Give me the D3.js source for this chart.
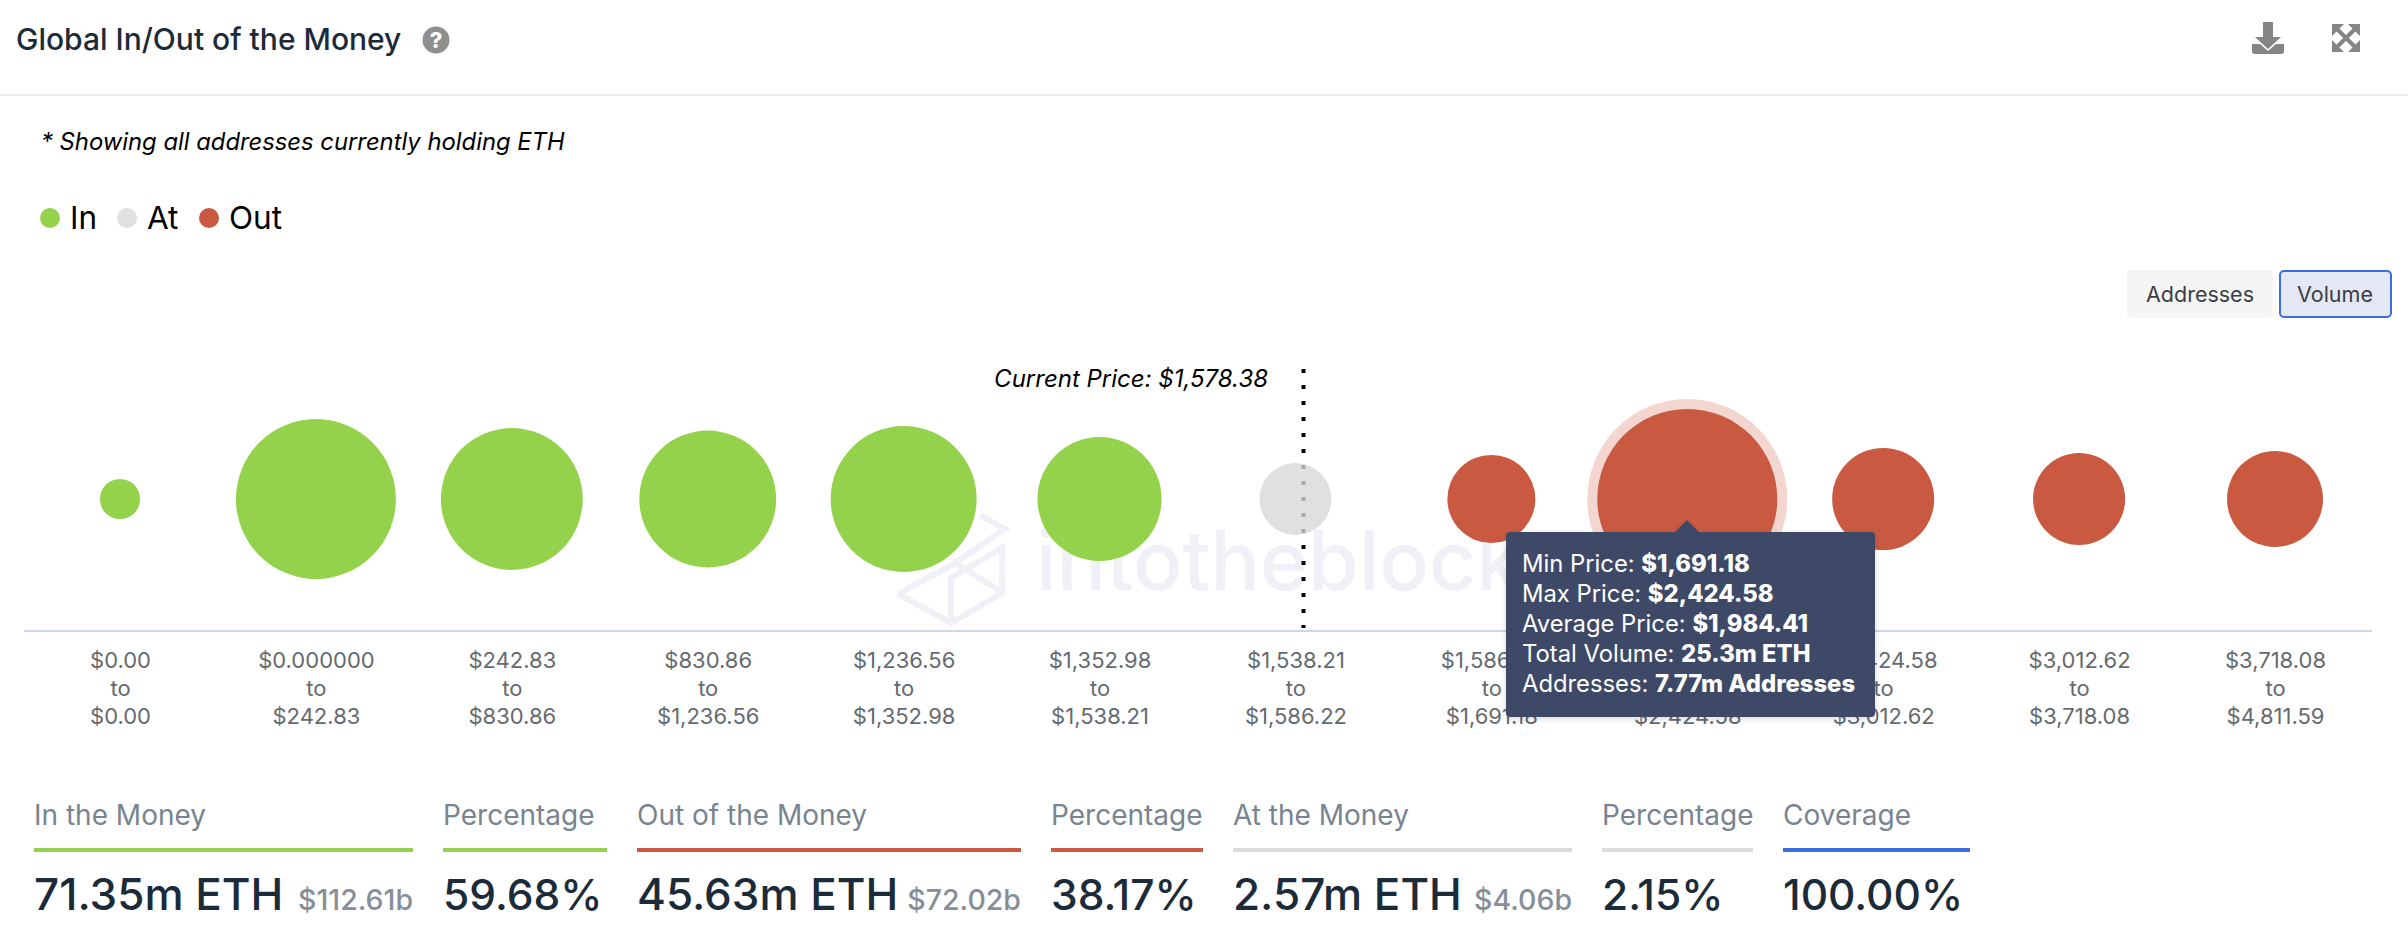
<!DOCTYPE html>
<html lang="en">
<head>
    <meta charset="UTF-8">
    <title>Global In/Out of the Money</title>
    <style>
        html, body { margin: 0; padding: 0; background: #fff; overflow: hidden; }
        svg { display: block; font-family: Inter, "Noto Sans", sans-serif; }
    </style>
    <script src="https://d3js.org/d3.v7.min.js"></script>
</head>
<body>
    <div id="chart"></div>
    <script>
        // price clusters
        const priceFrom = ["$0.00", "$0.000000", "$242.83", "$830.86", "$1,236.56", "$1,352.98", "$1,538.21", "$1,586.22", "$1,691.18", "$2,424.58", "$3,012.62", "$3,718.08"];
        const priceTo = ["$0.00", "$242.83", "$830.86", "$1,236.56", "$1,352.98", "$1,538.21", "$1,586.22", "$1,691.18", "$2,424.58", "$3,012.62", "$3,718.08", "$4,811.59"];
        const volumes = [0.35, 19.3, 14.6, 13.4, 15.6, 10.6, 2.57, 4.46, 25.3, 6.54, 5.02, 5.6]; // m ETH
        const groups = ["In", "In", "In", "In", "In", "In", "At", "Out", "Out", "Out", "Out", "Out"];

        const legendNames = ["In", "At", "Out"];
        const legendX = [50, 127, 209];

        const statLabels = ["In the Money", "Percentage", "Out of the Money", "Percentage", "At the Money", "Percentage", "Coverage"];
        const statValues = ["71.35m ETH", "59.68%", "45.63m ETH", "38.17%", "2.57m ETH", "2.15%", "100.00%"];
        const statUsd = ["$112.61b", "", "$72.02b", "", "$4.06b", "", ""];
        const statColors = ["In", "In", "Out", "Out", "At", "At", "Cov"];
        const statLeft = [34, 443, 637, 1051, 1233, 1602, 1783];
        const statRight = [413, 607, 1021, 1203, 1572, 1753, 1970];

        const tooltipLabels = ["Min Price: ", "Max Price: ", "Average Price: ", "Total Volume: ", "Addresses: "];
        const tooltipValues = ["$1,691.18", "$2,424.58", "$1,984.41", "25.3m ETH", "7.77m Addresses"];
        const activeIndex = 8;

        const width = 2408;
        const height = 952;
        const cy = 499;
        const axisY = 631;

        const color = { In: "#93d24a", At: "#e0e0e0", Out: "#c95a41", Cov: "#3c6de0" };
        const labels = priceFrom.map((d, i) => d + "|" + priceTo[i]);

        const svg = d3.select("#chart").append("svg")
            .attr("width", width)
            .attr("height", height);

        // header
        svg.append("text").attr("x", 16).attr("y", 50)
            .attr("font-size", 30).attr("font-weight", 500).attr("fill", "#1c2b3a")
            .text("Global In/Out of the Money");
        svg.append("circle").attr("cx", 436).attr("cy", 40).attr("r", 13.5).attr("fill", "#8e8e8e");
        svg.append("text").attr("x", 436).attr("y", 48).attr("text-anchor", "middle")
            .attr("font-size", 22).attr("font-weight", 800).attr("fill", "#fff").text("?");
        svg.append("rect").attr("x", 0).attr("y", 94).attr("width", width).attr("height", 2).attr("fill", "#eeeeee");

        // download + expand icons
        svg.append("path").attr("fill", "#858585")
            .attr("d", "M2263 22h10v15h8l-13 12-13-12h8z M2252 44h8l8 7 8-7h8v7q0 3-3 3h-26q-3 0-3-3z");
        svg.append("g").attr("stroke", "#858585").attr("fill", "none").attr("stroke-width", 4)
            .call(g => {
                g.append("path").attr("d", "M2337 29L2355 47M2355 29L2337 47");
            });
        svg.append("path").attr("fill", "#858585")
            .attr("d", "M2332 24h12l-12 12z M2360 24v12l-12-12z M2332 52v-12l12 12z M2360 52h-12l12-12z");

        svg.append("text").attr("x", 41).attr("y", 150)
            .attr("font-size", 23.8).attr("font-style", "italic").attr("fill", "#000")
            .text("* Showing all addresses currently holding ETH");

        // legend
        const legend = svg.append("g").selectAll("g").data(legendNames).enter().append("g");
        legend.append("circle").attr("cx", (d, i) => legendX[i]).attr("cy", 218).attr("r", 10)
            .attr("fill", d => color[d]);
        legend.append("text").attr("x", (d, i) => legendX[i] + 20).attr("y", 229)
            .attr("font-size", 31.5).attr("fill", "#000").text(d => d);

        // Addresses / Volume switch
        svg.append("rect").attr("x", 2127).attr("y", 270).attr("width", 146).attr("height", 48).attr("rx", 4).attr("fill", "#f5f5f5");
        svg.append("rect").attr("x", 2280).attr("y", 271).attr("width", 111).attr("height", 46).attr("rx", 4)
            .attr("fill", "#e3e8f4").attr("stroke", "#3c6de0").attr("stroke-width", 2);
        svg.append("text").attr("x", 2200).attr("y", 302).attr("text-anchor", "middle")
            .attr("font-size", 21.5).attr("fill", "#3a3d45").text("Addresses");
        svg.append("text").attr("x", 2335).attr("y", 302).attr("text-anchor", "middle")
            .attr("font-size", 21.5).attr("fill", "#3a3d45").text("Volume");

        // watermark
        const mark = svg.append("g").attr("fill", "none").attr("stroke", "#eff1f7").attr("stroke-width", 6);
        mark.append("path").attr("d", "M898 594L951 623L1002 593V548L951 578V623 M898 594L952 565L1005 529L980 515 M955 563L1002 592");
        svg.append("text").attr("x", 1036).attr("y", 590)
            .attr("font-size", 82).attr("font-weight", 500).attr("fill", "#eff1f7").text("intotheblock");

        // scales
        const x = d3.scalePoint().domain(labels).range([120, 2275]);
        const r = d3.scaleSqrt().domain([0, d3.max(volumes)]).range([10.7, 90]);

        // x axis, each label split on three lines
        const axis = svg.append("g")
            .attr("transform", `translate(0,${axisY})`)
            .call(d3.axisBottom(x).tickSize(0).tickPadding(0));
        axis.select(".domain").remove();
        svg.append("rect").attr("x", 24).attr("y", axisY - 1).attr("width", 2348).attr("height", 2).attr("fill", "#cdd6ec");
        axis.selectAll(".tick text")
            .attr("font-family", "Inter, sans-serif")
            .attr("font-size", 22)
            .attr("fill", "#666a6e")
            .each(function (d) {
                const parts = d.split("|");
                const t = d3.select(this).text(null).attr("y", null).attr("dy", null);
                [parts[0], "to", parts[1]].forEach((s, i) => {
                    t.append("tspan").attr("x", 0).attr("y", 37 + i * 28).text(s);
                });
            });

        // current price marker
        svg.append("line").attr("x1", 1303.5).attr("x2", 1303.5).attr("y1", 369).attr("y2", 628)
            .attr("stroke", "#000").attr("stroke-width", 4).attr("stroke-dasharray", "4 12");
        svg.append("text").attr("x", 1268).attr("y", 387).attr("text-anchor", "end")
            .attr("font-size", 24).attr("font-style", "italic").attr("fill", "#000")
            .text("Current Price: $1,578.38");

        // bubbles
        svg.append("circle").attr("cx", x(labels[activeIndex])).attr("cy", cy)
            .attr("r", r(volumes[activeIndex]) + 10).attr("fill", "#f3d6cf");
        svg.append("g").selectAll("circle")
            .data(volumes)
            .enter().append("circle")
            .attr("cx", (d, i) => x(labels[i]))
            .attr("cy", cy)
            .attr("r", d => r(d))
            .attr("fill", (d, i) => groups[i] === "At" ? "#d8d8d8" : color[groups[i]])
            .attr("fill-opacity", (d, i) => groups[i] === "At" ? 0.79 : 1);

        // tooltip
        const defs = svg.append("defs");
        const shadow = defs.append("filter").attr("id", "tipShadow").attr("x", "-5%").attr("y", "-5%").attr("width", "110%").attr("height", "115%");
        shadow.append("feDropShadow").attr("dx", 0).attr("dy", 2).attr("stdDeviation", 3).attr("flood-color", "#000").attr("flood-opacity", 0.15);
        const tip = svg.append("g");
        tip.append("path").attr("fill", "#3c4a66").attr("filter", "url(#tipShadow)")
            .attr("d", "M1510 532H1675L1687 520L1699 532H1871Q1875 532 1875 536V713Q1875 717 1871 717H1510Q1506 717 1506 713V536Q1506 532 1510 532Z");
        tooltipLabels.forEach((s, i) => {
            const line = tip.append("text").attr("x", 1522).attr("y", 572 + i * 30)
                .attr("font-size", 23.8).attr("fill", "#fff");
            line.append("tspan").attr("xml:space", "preserve").text(s);
            line.append("tspan").attr("font-weight", 800).text(tooltipValues[i]);
        });

        // summary stats
        const stats = svg.append("g").selectAll("g").data(statLabels).enter().append("g");
        stats.append("text").attr("x", (d, i) => statLeft[i]).attr("y", 825)
            .attr("font-size", 28).attr("fill", "#78848f").text(d => d);
        stats.append("rect")
            .attr("x", (d, i) => statLeft[i])
            .attr("y", 848)
            .attr("width", (d, i) => statRight[i] - statLeft[i])
            .attr("height", 4)
            .attr("fill", (d, i) => statColors[i] === "At" ? "#dcdcdc" : color[statColors[i]]);
        stats.append("text").attr("x", (d, i) => statLeft[i]).attr("y", 910)
            .attr("font-size", (d, i) => statUsd[i] ? 44 : 42.5)
            .attr("font-weight", 500).attr("fill", "#1c2b3a").text((d, i) => statValues[i]);
        stats.append("text").attr("x", (d, i) => statRight[i]).attr("y", 910).attr("text-anchor", "end")
            .attr("font-size", 28.5).attr("font-weight", 500).attr("fill", "#868f98").text((d, i) => statUsd[i]);
    </script>
</body>
</html>
